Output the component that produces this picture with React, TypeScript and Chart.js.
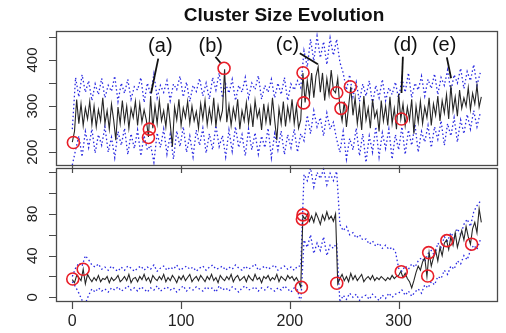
import { useEffect, useRef } from "react";
import { Chart, registerables } from "chart.js";
Chart.register(...registerables);

const TITLE = "Cluster Size Evolution";
const X_TICKS = [0, 100, 200, 300];
const TOP_Y_TICKS = [200, 250, 300, 350, 400, 450];
const TOP_Y_LABELS = [200, 300, 400];
const BOT_Y_TICKS = [0, 20, 40, 60, 80, 100, 120];
const BOT_Y_LABELS = [0, 40, 80];

// time steps
const T2 = Array.from({ length: 189 }, (_, i) => i * 2);
const T3 = Array.from({ length: 126 }, (_, i) => i * 3);

// ---- top panel ----
const topMean = [
  222, 245, 314, 262, 305, 258, 296, 272, 310, 260,
  300, 255, 292, 268, 318, 262, 290, 250, 304, 270,
  226, 298, 262, 312, 266, 300, 252, 295, 275, 310,
  258, 305, 265, 292, 270, 233, 322, 252, 300, 262,
  312, 268, 290, 255, 306, 262, 212, 298, 270, 315,
  258, 296, 275, 310, 262, 300, 268, 288, 252, 305,
  272, 312, 260, 295, 266, 318, 255, 300, 270, 290,
  380, 265, 302, 258, 296, 272, 315, 250, 290, 268,
  308, 262, 298, 255, 312, 275, 292, 248, 305, 265,
  300, 258, 318, 270, 226, 295, 262, 310, 256, 298,
  270, 315, 262, 300, 252, 270, 372, 308, 355, 320,
  372, 318, 365, 385, 330, 372, 312, 360, 325, 378,
  335, 329, 360, 295, 268, 310, 255, 300, 342, 280,
  318, 262, 300, 248, 322, 270, 296, 252, 315, 275,
  290, 245, 312, 268, 300, 258, 320, 262, 295, 250,
  327, 272, 305, 258, 298, 270, 315, 240, 300, 265,
  310, 262, 298, 275, 318, 258, 305, 280, 322, 268,
  312, 285, 325, 272, 345, 290, 320, 278, 335, 295,
  318, 300, 340, 292, 328, 305, 345, 298, 320,
];
const topUpper = [
  250, 362, 320, 368, 330, 355, 312, 348, 325, 360,
  318, 345, 332, 365, 310, 350, 328, 358, 315, 342,
  335, 362, 308, 350, 325, 370, 318, 345, 330, 355,
  312, 348, 336, 365, 320, 352, 310, 345, 332, 360,
  322, 350, 315, 362, 335, 372, 318, 348, 328, 358,
  312, 345, 330, 362, 318, 350, 336, 366, 315, 345,
  330, 358, 318, 350, 325, 362, 312, 348, 335, 355,
  340, 420, 385, 445, 398, 452, 405, 440, 390, 448,
  410, 445, 395, 372, 335, 368, 320, 352, 310, 348,
  322, 355, 305, 345, 318, 358, 312, 340, 325, 352,
  315, 360, 330, 372, 318, 350, 335, 365, 322, 358,
  338, 370, 325, 362, 345, 378, 332, 368, 350, 382,
  338, 375, 355, 390, 345, 372,
];
const topLower = [
  172, 205, 235, 190, 245, 210, 250, 198, 238, 215,
  255, 200, 232, 188, 245, 215, 252, 195, 240, 208,
  248, 192, 236, 205, 215, 178, 242, 210, 250, 196,
  238, 185, 246, 212, 255, 200, 235, 190, 248, 215,
  252, 198, 240, 205, 258, 212, 236, 190, 248, 202,
  255, 210, 238, 192, 250, 205, 242, 196, 235, 210,
  252, 188, 240, 205, 246, 195, 238, 210, 250, 200,
  240, 225, 280, 240, 290, 255, 275, 235, 285, 250,
  265, 228, 200, 245, 185, 230, 205, 252, 192, 240,
  178, 235, 200, 255, 190, 242, 208, 250, 185, 238,
  205, 255, 195, 248, 215, 260, 200, 245, 222, 258,
  210, 255, 228, 268, 215, 262, 235, 275, 222, 270,
  240, 282, 250, 290, 255, 285,
];
const topCircleX = [1, 70.8, 70, 139.5, 212.1, 212.7, 243.1, 247, 255.6, 302.6];
const topCircleY = [221, 250, 232, 382, 372.5, 307, 329, 295, 342, 272];

const annLabels = ["(a)", "(b)", "(c)", "(d)", "(e)"];
const annTextX = [80.9, 127.3, 197.8, 306.3, 341.8];
const annTextY = [428.8, 428.8, 432.5, 432.5, 432.5];
const annFromX = [79, 131.6, 209.1, 303.9, 344.3];
const annFromY = [403, 407, 414.5, 407, 405.8];
const annToX = [72.4, 136.2, 225.8, 302.6, 348.2];
const annToY = [328, 394, 390.7, 328.6, 360.4];

// ---- bottom panel ----
const botMean = [
  17, 14, 21, 19, 16, 27, 13, 22, 18, 15,
  19, 16, 21, 15, 18, 17, 20, 14, 19, 16,
  18, 21, 15, 17, 20, 16, 22, 14, 18, 19,
  15, 20, 17, 22, 16, 19, 14, 21, 18, 16,
  20, 17, 22, 15, 19, 16, 21, 18, 14, 20,
  17, 21, 16, 19, 22, 15, 18, 20, 16, 21,
  18, 15, 20, 17, 22, 16, 19, 14, 21, 18,
  16, 20, 17, 22, 15, 19, 21, 16, 18, 20,
  15, 21, 18, 16, 22, 17, 19, 14, 20, 18,
  21, 16, 19, 17, 22, 15, 20, 18, 16, 21,
  18, 20, 16, 19, 15, 10, 78, 75, 80, 73,
  78, 72, 81, 76, 70, 79, 74, 82, 75, 78,
  73, 80, 13, 18, 22, 16, 20, 15, 23, 17,
  21, 16, 19, 22, 15, 18, 20, 17, 21, 16,
  19, 17, 20, 18, 16, 19, 17, 21, 18, 20,
  21, 25, 19, 23, 18, 15, 9, 16, 24, 30,
  26, 34, 38, 20, 43, 30, 38, 45, 35, 48,
  40, 52, 55, 46, 58, 50, 62, 48, 56, 64,
  55, 68, 58, 51, 66, 72, 62, 85, 72,
];
const botUpper = [
  20, 28, 33, 30, 40, 36, 31, 29, 32, 27,
  29, 26, 30, 27, 25, 29, 26, 30, 28, 25,
  28, 30, 26, 29, 27, 31, 25, 28, 30, 26,
  29, 27, 31, 26, 28, 30, 27, 29, 25, 28,
  30, 26, 29, 31, 27, 28, 30, 26, 29, 27,
  31, 28, 26, 30, 27, 29, 32, 26, 28, 30,
  27, 29, 31, 26, 28, 30, 27, 29, 26, 30,
  30, 118, 112, 124, 106, 120, 114, 123, 108, 119,
  112, 121, 70, 64, 68, 60, 62, 57, 60, 55,
  56, 51, 54, 49, 52, 47, 50, 46, 48, 44,
  28, 25, 30, 27, 32, 29, 35, 38, 34, 42,
  45, 40, 52, 48, 58, 54, 62, 57, 66, 60,
  70, 75, 68, 82, 88, 92,
];
const botLower = [
  15, 10, 4, -3, -6, 2, 8, 5, 9, 6,
  8, 5, 9, 7, 10, 6, 8, 11, 7, 9,
  6, 10, 8, 5, 9, 7, 11, 6, 8, 10,
  7, 9, 5, 8, 11, 6, 9, 7, 10, 8,
  6, 10, 8, 9, 5, 11, 7, 9, 6, 10,
  8, 5, 9, 11, 7, 8, 10, 6, 9, 7,
  10, 8, 6, 9, 7, 11, 8, 5, 9, 7,
  -6, 55, 48, 60, 42, 52, 45, 58, 40, 50,
  47, 52, -5, 2, -2, 4, 0, 3, -3, 1,
  2, -2, 3, 0, -3, 2, -1, 4, 0, 3,
  4, 7, 2, 6, 1, 5, 8, 4, 12, 9,
  15, 12, 20, 18, 26, 22, 30, 27, 35, 32,
  40, 36, 45, 50, 46, 55,
];
const botCircleX = [0.4, 10, 212.1, 211.5, 210.6, 243.1, 302.4, 327.6, 326.7, 344.3, 367.1];
const botCircleY = [17.6, 26.9, 79.1, 75, 9.6, 13.5, 24.6, 42.9, 20.5, 54.4, 51];

const BLUE = "rgb(40,40,225)";
const BLACK = "#262626";
const RED = "rgb(232,30,40)";
const FONT = "'Liberation Sans', Arial, Helvetica, sans-serif";

const pts = (xs: number[], ys: number[]) => ys.map((v, i) => ({ x: xs[i], y: v }));

function datasets(mean: number[], up: number[], lo: number[], cx: number[], cy: number[]) {
  return [
    {
      data: pts(cx, cy), showLine: false, pointRadius: 6, pointHoverRadius: 6,
      pointBackgroundColor: "rgba(0,0,0,0)", pointBorderColor: RED, pointBorderWidth: 1.6,
      clip: false as any, order: 0,
    },
    { data: pts(T2, mean), borderColor: BLACK, borderWidth: 1.1, pointRadius: 0, tension: 0, order: 1 },
    { data: pts(T3, up), borderColor: BLUE, borderWidth: 1.3, borderDash: [1.5, 2.5], pointRadius: 0, tension: 0, order: 2 },
    { data: pts(T3, lo), borderColor: BLUE, borderWidth: 1.3, borderDash: [1.5, 2.5], pointRadius: 0, tension: 0, order: 3 },
  ];
}

function axesPlugin(kind: "top" | "bottom") {
  return {
    id: "axes_" + kind,
    afterDraw(chart: any) {
      const { ctx, chartArea: a, scales } = chart;
      const x = scales.x, y = scales.y;
      ctx.save();
      ctx.strokeStyle = "#4a4a4a";
      ctx.lineWidth = 1.3;
      ctx.strokeRect(Math.round(a.left) + 0.5, Math.round(a.top) + 0.5, Math.round(a.right - a.left) - 1, Math.round(a.bottom - a.top) - 1);
      ctx.lineWidth = 1.2;
      const yt = kind === "top" ? TOP_Y_TICKS : BOT_Y_TICKS;
      const yl = kind === "top" ? TOP_Y_LABELS : BOT_Y_LABELS;
      ctx.beginPath();
      yt.forEach((v) => {
        const py = Math.round(y.getPixelForValue(v)) + 0.5;
        ctx.moveTo(a.left - 7, py);
        ctx.lineTo(a.left, py);
      });
      X_TICKS.forEach((v) => {
        const px = Math.round(x.getPixelForValue(v)) + 0.5;
        ctx.moveTo(px, a.bottom);
        ctx.lineTo(px, a.bottom + 7);
      });
      ctx.stroke();
      ctx.fillStyle = "#222";
      ctx.font = "15px " + FONT;
      ctx.textAlign = "center";
      ctx.textBaseline = "middle";
      yl.forEach((v) => {
        const py = y.getPixelForValue(v);
        ctx.save();
        ctx.translate(33, py);
        ctx.rotate(-Math.PI / 2);
        ctx.fillText(String(v), 0, 0);
        ctx.restore();
      });
      if (kind === "bottom") {
        ctx.font = "16px " + FONT;
        X_TICKS.forEach((v) => {
          ctx.fillText(String(v), x.getPixelForValue(v), a.bottom + 20);
        });
      } else {
        ctx.fillStyle = "#111";
        ctx.font = "bold 19px " + FONT;
        ctx.fillText(TITLE, 284, 16);
        ctx.font = "20px " + FONT;
        ctx.fillStyle = "#111";
        ctx.strokeStyle = "#111";
        ctx.lineWidth = 1.8;
        annLabels.forEach((t, i) => {
          ctx.fillText(t, x.getPixelForValue(annTextX[i]), y.getPixelForValue(annTextY[i]));
          ctx.beginPath();
          ctx.moveTo(x.getPixelForValue(annFromX[i]), y.getPixelForValue(annFromY[i]));
          ctx.lineTo(x.getPixelForValue(annToX[i]), y.getPixelForValue(annToY[i]));
          ctx.stroke();
        });
      }
      ctx.restore();
    },
  };
}

function makeChart(canvas: HTMLCanvasElement, kind: "top" | "bottom") {
  const top = kind === "top";
  return new Chart(canvas, {
    type: "line",
    data: {
      datasets: (top
        ? datasets(topMean, topUpper, topLower, topCircleX, topCircleY)
        : datasets(botMean, botUpper, botLower, botCircleX, botCircleY)) as any,
    },
    options: {
      responsive: false,
      animation: false,
      events: [],
      layout: { padding: top ? { left: 56, right: 4, top: 31, bottom: 10 } : { left: 56, right: 4, top: 7, bottom: 31 } },
      plugins: { legend: { display: false }, tooltip: { enabled: false } },
      scales: {
        x: { type: "linear", min: -15, max: 391.7, display: false },
        y: { type: "linear", min: top ? 170 : -4.5, max: top ? 463 : 124.5, display: false },
      },
    },
    plugins: [axesPlugin(kind)],
  });
}

export default function App() {
  const topRef = useRef<HTMLCanvasElement>(null);
  const botRef = useRef<HTMLCanvasElement>(null);
  useEffect(() => {
    const c1 = makeChart(topRef.current!, "top");
    const c2 = makeChart(botRef.current!, "bottom");
    return () => {
      c1.destroy();
      c2.destroy();
    };
  }, []);
  return (
    <div style={{ position: "fixed", left: 0, top: 0, width: 506, height: 333, background: "#fff", overflow: "hidden" }}>
      <canvas ref={topRef} width={506} height={176} style={{ position: "absolute", left: 0, top: 0, width: 506, height: 176 }} />
      <canvas ref={botRef} width={506} height={173} style={{ position: "absolute", left: 0, top: 160, width: 506, height: 173 }} />
    </div>
  );
}
